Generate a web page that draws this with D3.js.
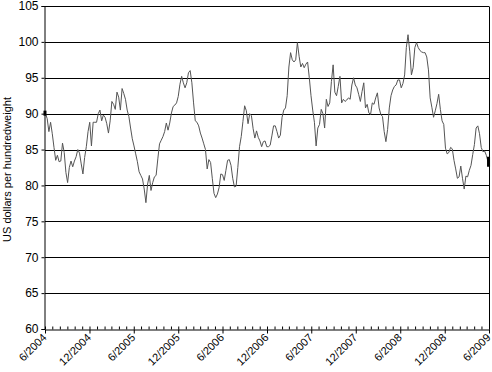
<!DOCTYPE html>
<html>
<head>
<meta charset="utf-8">
<script src="https://cdn.jsdelivr.net/npm/d3@7"></script>
<style>
  body { margin: 0; background: #fff; }
  text { font-family: Arial, "Liberation Sans", sans-serif; fill: #000; }
</style>
</head>
<body>
<div id="chart"></div>
<script>
// weekly price series, first week of June 2004 to end of May 2009
const startDate = new Date(2004, 5, 3);
const prices = [
  90.0, 89.3, 87.5, 88.8, 87.2, 85.3, 83.5, 84.2, 83.3, 83.4,
  85.9, 84.6, 81.8, 80.4, 82.5, 83.4, 82.6, 83.4, 84.0, 85.0,
  84.5, 83.0, 81.6, 83.9, 85.4, 87.5, 88.8, 85.5, 88.8, 88.8,
  88.8, 90.0, 90.5, 89.0, 89.8, 89.5, 88.6, 87.3, 89.0, 91.7,
  91.3, 90.6, 93.0, 92.3, 90.5, 93.5, 92.8, 92.0, 90.5, 89.6,
  88.0, 86.5, 85.5, 84.4, 83.3, 81.9, 81.4, 80.9, 79.5, 77.6,
  80.2, 81.4, 79.3, 80.4, 81.2, 81.4, 83.7, 85.8, 86.3, 86.8,
  87.5, 88.7, 87.7, 88.7, 90.1, 91.0, 91.2, 91.5, 92.4, 94.1,
  95.2, 94.3, 93.6, 94.3, 95.7, 96.0, 94.3, 91.5, 89.0, 88.8,
  88.3, 87.3, 86.6, 85.8, 85.0, 82.3, 83.6, 83.2, 81.0, 78.9,
  78.3, 78.8, 79.7, 81.6, 81.5, 80.7, 82.1, 83.5, 83.6, 82.8,
  81.0, 79.8, 79.9, 82.5, 85.4, 86.8, 88.9, 91.1, 90.4, 88.6,
  90.0, 89.7, 87.9, 86.6, 87.6, 86.7, 86.2, 85.4, 86.1, 86.2,
  85.4, 85.4, 85.6, 86.9, 88.3, 88.3, 87.5, 86.6, 87.0, 89.5,
  90.5, 90.8, 92.5, 96.5, 98.5, 97.5, 97.2, 97.5, 99.9, 98.0,
  96.5, 97.0, 96.4, 96.9, 97.2, 95.0, 92.5, 90.5, 88.8, 85.5,
  88.0, 88.5, 90.6, 90.0, 88.0, 92.0, 91.0, 91.5, 94.5, 96.8,
  93.0, 92.5, 93.8, 95.2, 91.5, 92.0, 91.7, 91.9, 92.2, 92.0,
  94.0, 95.0, 94.0, 93.6, 92.7, 91.7, 93.1, 94.3, 90.8, 91.3,
  90.1, 89.9, 91.5, 91.3, 92.2, 92.9, 90.8, 89.9, 89.6, 87.5,
  86.1, 87.8, 90.8, 92.5, 93.3, 93.8, 94.0, 94.7, 94.7, 93.6,
  94.2, 95.4, 99.2, 101.0, 98.7, 95.4, 96.4, 99.2, 99.9, 99.2,
  98.8, 98.6, 98.5, 98.5, 97.9, 96.1, 92.2, 90.9, 89.5, 90.4,
  91.4, 92.7, 90.6, 89.0, 88.5, 85.2, 84.4, 84.6, 85.3, 85.1,
  83.5, 82.3, 81.0, 81.2, 82.7, 81.0, 79.5, 81.3, 81.2, 82.1,
  82.8, 84.3, 85.7, 88.0, 88.3, 87.2, 85.3, 84.7, 84.8, 84.2, 83.3
];
const yTicks = [60, 65, 70, 75, 80, 85, 90, 95, 100, 105];
const xTickLabels = ['6/2004', '12/2004', '6/2005', '12/2005', '6/2006', '12/2006',
                     '6/2007', '12/2007', '6/2008', '12/2008', '6/2009'];
const yTitle = 'US dollars per hundredweight';

const width = 492, height = 372;
const margin = { top: 6, right: 2, bottom: 43, left: 45 };

const parseTick = d3.timeParse('%m/%Y');
const xTickDates = xTickLabels.map(parseTick);
const data = prices.map((v, i) => ({ date: d3.timeDay.offset(startDate, 7 * i), value: v }));

const svg = d3.select('#chart').append('svg')
    .attr('width', width)
    .attr('height', height);

const x = d3.scaleTime()
    .domain([xTickDates[0], xTickDates[xTickDates.length - 1]])
    .range([margin.left, width - margin.right - 1]);

const y = d3.scaleLinear()
    .domain([60, 105])
    .range([height - margin.bottom, margin.top]);

const crisp = v => Math.round(v) + 0.5;

// horizontal gridlines
svg.append('g')
    .selectAll('line')
    .data(yTicks.filter(d => d > 60))
    .join('line')
    .attr('x1', x.range()[0])
    .attr('x2', x.range()[1])
    .attr('y1', d => crisp(y(d)))
    .attr('y2', d => crisp(y(d)))
    .attr('stroke', '#000')
    .attr('stroke-width', 1);

// right border
svg.append('line')
    .attr('x1', crisp(x.range()[1])).attr('x2', crisp(x.range()[1]))
    .attr('y1', crisp(y(105))).attr('y2', crisp(y(60)))
    .attr('stroke', '#000');

// price line
svg.append('path')
    .datum(data)
    .attr('fill', 'none')
    .attr('stroke', '#555')
    .attr('stroke-width', 1)
    .attr('stroke-linejoin', 'round')
    .attr('d', d3.line().x(d => x(d.date)).y(d => y(d.value)));

// end markers
const first = data[0], last = data[data.length - 1];
svg.append('rect')
    .attr('x', x(first.date) - 2).attr('y', y(first.value) - 3)
    .attr('width', 3).attr('height', 5).attr('fill', '#000');
svg.append('rect')
    .attr('x', x(last.date) - 1).attr('y', y(last.value) - 5)
    .attr('width', 3).attr('height', 10).attr('fill', '#000');

// y axis
const yAxis = svg.append('g')
    .attr('transform', `translate(${crisp(x.range()[0]) - 1},0)`)
    .call(d3.axisLeft(y).tickValues(yTicks).tickSize(3).tickPadding(3)
        .tickFormat(d3.format('d')));
yAxis.select('.domain').attr('stroke', '#000');
yAxis.selectAll('.tick line').attr('stroke', '#000');
yAxis.selectAll('.tick text').attr('font-size', 12).attr('fill', '#000');

// x axis: minor monthly ticks inside, major 6-month ticks outside
const xBase = crisp(y(60));
svg.append('g')
    .attr('transform', `translate(0,${xBase})`)
    .call(d3.axisBottom(x).ticks(d3.timeMonth.every(1)).tickSize(-3).tickFormat(''))
    .call(g => g.select('.domain').remove())
    .selectAll('.tick line').attr('stroke', '#000');

const xAxis = svg.append('g')
    .attr('transform', `translate(0,${xBase})`)
    .call(d3.axisBottom(x).tickValues(xTickDates).tickSize(4).tickSizeOuter(0)
        .tickFormat((d, i) => xTickLabels[i]));
xAxis.select('.domain').attr('stroke', '#000');
xAxis.selectAll('.tick line').attr('stroke', '#000');
xAxis.selectAll('.tick text')
    .attr('font-size', 11)
    .attr('fill', '#000')
    .attr('text-anchor', 'end')
    .attr('y', 0)
    .attr('dy', '0.35em')
    .attr('transform', 'translate(-1,6) rotate(-45)');

// y axis title
svg.append('text')
    .attr('transform', `translate(11,${(y(60) + y(105)) / 2 + 2}) rotate(-90)`)
    .attr('text-anchor', 'middle')
    .attr('font-size', 11)
    .text(yTitle);
</script>
</body>
</html>
